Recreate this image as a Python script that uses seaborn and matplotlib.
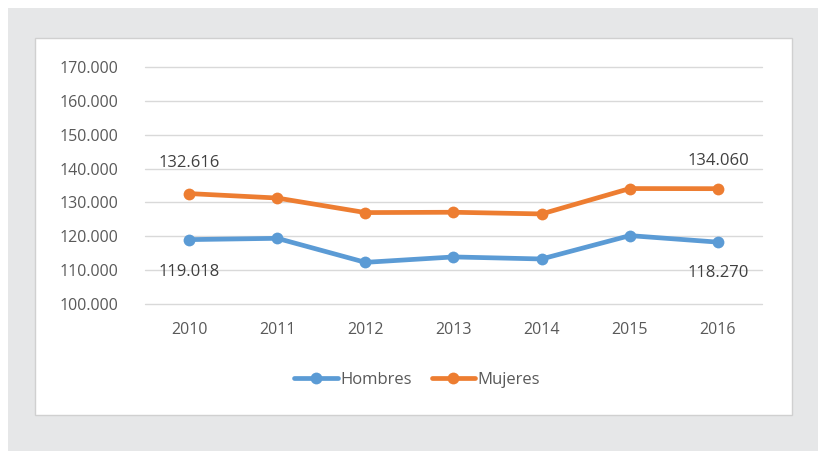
import matplotlib
matplotlib.use("Agg")
import matplotlib.pyplot as plt
import matplotlib.patches as mpatches
import matplotlib.ticker as mticker
import seaborn as sns
import pandas as pd

years = ["2010", "2011", "2012", "2013", "2014", "2015", "2016"]
hombres = [119018, 119400, 112300, 113900, 113300, 120200, 118270]
mujeres = [132616, 131300, 127000, 127100, 126600, 134100, 134060]
series_names = ["Hombres", "Mujeres"]
colors = ["#5B9BD5", "#ED7D31"]
yticks = [100000, 110000, 120000, 130000, 140000, 150000, 160000, 170000]

def fmt(v):
    return f"{int(round(v)):,}".replace(",", ".")

df = pd.DataFrame({
    "year": years * 2,
    "value": hombres + mujeres,
    "serie": [series_names[0]] * len(years) + [series_names[1]] * len(years),
})

sns.set_theme(style="white")
plt.rcParams["font.family"] = ["Open Sans", "DejaVu Sans"]

W, H = 818, 451
fig = plt.figure(figsize=(W / 100, H / 100), dpi=100)
fig.patch.set_facecolor("white")
# gray frame
fig.patches.append(mpatches.Rectangle((8 / W, 0), 1 - 8 / W, 1 - 8 / H,
                                      transform=fig.transFigure, facecolor="#E6E7E8",
                                      edgecolor="none", zorder=-3))
# white panel
fig.patches.append(mpatches.Rectangle((35 / W, 1 - 415 / H), (792 - 35) / W, (415 - 38) / H,
                                      transform=fig.transFigure, facecolor="white",
                                      edgecolor="#D0D0D0", linewidth=1, zorder=-2))

ax = fig.add_axes([145 / W, 1 - 304 / H, (762 - 145) / W, (304 - 67) / H])
ax.set_facecolor("none")

sns.lineplot(data=df, x="year", y="value", hue="serie", palette=colors,
             marker="o", markersize=8.5, markeredgewidth=0, linewidth=3.4,
             ax=ax, legend=False, sort=False)

ax.set_xlim(-0.5, len(years) - 0.5)
ax.set_ylim(yticks[0], yticks[-1])
ax.set_yticks(yticks)
ax.yaxis.set_major_formatter(mticker.FuncFormatter(lambda v, p: fmt(v)))
ax.grid(axis="y", color="#D9D9D9", linewidth=1)
ax.grid(axis="x", visible=False)
for gl in ax.get_ygridlines():
    gl.set_clip_on(False)
ax.set_axisbelow(True)
for s in ax.spines.values():
    s.set_visible(False)
ax.tick_params(axis="both", length=0, labelsize=11.5, labelcolor="#595959")
ax.tick_params(axis="y", pad=19)
ax.tick_params(axis="x", pad=13)
ax.set_xlabel("")
ax.set_ylabel("")

# data labels
lab_kw = dict(textcoords="offset points", ha="center", va="center",
              fontsize=12, color="#404040")
ax.annotate(fmt(mujeres[0]), (0, mujeres[0]), xytext=(0, 22), **lab_kw)
ax.annotate(fmt(hombres[0]), (0, hombres[0]), xytext=(0, -23), **lab_kw)
ax.annotate(fmt(mujeres[-1]), (len(years) - 1, mujeres[-1]), xytext=(0, 20), **lab_kw)
ax.annotate(fmt(hombres[-1]), (len(years) - 1, hombres[-1]), xytext=(0, -22), **lab_kw)

handles = [plt.Line2D([], [], color=c, linewidth=3.4, marker="o", markersize=8.5,
                      markeredgewidth=0) for c in colors]
fig.legend(handles, series_names, loc="center", bbox_to_anchor=(417 / W, 1 - 380 / H),
           ncol=2, frameon=False, fontsize=12, handlelength=2.6, handletextpad=0.15,
           columnspacing=1.2, labelcolor="#595959")

fig.savefig("out.png", dpi=100, facecolor=fig.get_facecolor())
